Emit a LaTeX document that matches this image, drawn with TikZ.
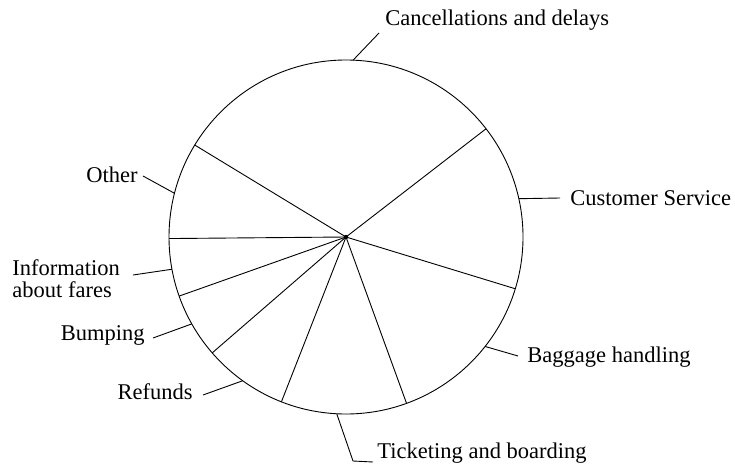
\documentclass[tikz,border=0pt]{standalone}
\usepackage{fontspec}
\setmainfont{Liberation Serif}
\usetikzlibrary{positioning}

\begin{document}
\begin{tikzpicture}[x=1pt,y=1pt,line width=0.9pt,
    lbl/.style={inner sep=0pt,font=\fontsize{22.5}{22}\selectfont}]
  \useasboundingbox (0,0) rectangle (735,464);
  \coordinate (o) at (346,227);
  \draw (o) circle (177);
  \fill (o) circle (2.2);
  \foreach \a in {37.7,148.7,180.5,199.5,220.9,248.6,290,343}
    \draw (o) -- ++(\a:177);

  % points on the rim
  \path (o) ++(87.7:177) coordinate (rcanc)
        (o) ++(12.5:177) coordinate (rcust)
        (o) ++(321.8:177) coordinate (rbagg)
        (o) ++(267:177) coordinate (rtick)
        (o) ++(234.3:177) coordinate (rrefu)
        (o) ++(209.4:177) coordinate (rbump)
        (o) ++(190.5:177) coordinate (rinfo)
        (o) ++(165.7:177) coordinate (rothr);

  \node[lbl,anchor=west] (canc) at (385,444) {Cancellations and delays};
  \node[lbl,anchor=west] (cust) at (570,266) {Customer Service};
  \node[lbl,anchor=west] (bagg) at (527,107) {Baggage handling};
  \node[lbl,anchor=west] (tick) at (377,11) {Ticketing and boarding};
  \node[lbl,anchor=east] (refu) at (193,72) {Refunds};
  \node[lbl,anchor=east] (bump) at (145,129) {Bumping};
  \node[lbl,anchor=west,align=left] (info) at (12,185) {Information\\about fares};
  \node[lbl,anchor=east] (othr) at (138,289) {Other};

  \coordinate (lcanc) at (379,431);
  \coordinate (lcust) at (560,266);
  \coordinate (lbagg) at (518,108);
  \coordinate (ltick) at (353,3);
  \coordinate (ltick2) at (373,2);
  \coordinate (lrefu) at (203,69);
  \coordinate (lbump) at (153,126);
  \coordinate (linfo) at (133,189);
  \coordinate (lothr) at (143,288);

  \path[draw]
    (rcanc) edge (lcanc)
    (rcust) edge (lcust)
    (rbagg) edge (lbagg)
    (rrefu) edge (lrefu)
    (rbump) edge (lbump)
    (rinfo) edge (linfo)
    (rothr) edge (lothr);
  \draw (rtick) -- (ltick) -- (ltick2);
\end{tikzpicture}
\end{document}
